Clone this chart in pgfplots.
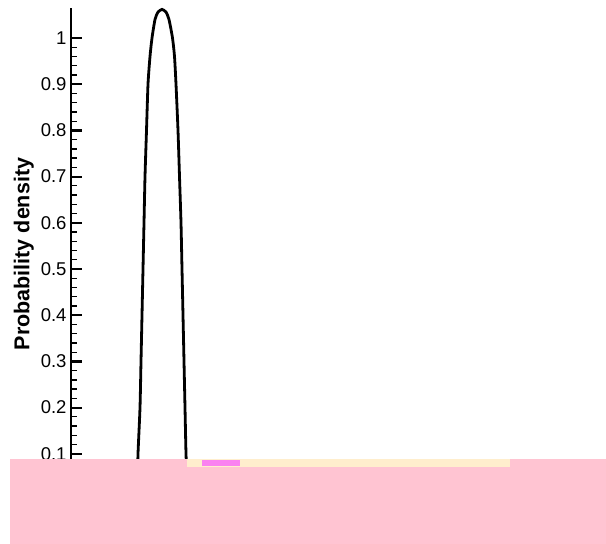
\documentclass[border=0pt]{standalone}
\usepackage{pgfplots}
\pgfplotsset{compat=1.18}
\usepackage{fontspec}
\setmainfont{Liberation Sans}
\definecolor{maskpink}{RGB}{255,196,210}
\definecolor{stripyellow}{RGB}{255,238,205}
\definecolor{stripmag}{RGB}{250,130,240}
\begin{document}
\begin{tikzpicture}[x=1bp,y=1bp]
\path[use as bounding box] (0,0) rectangle (606,544);
\begin{axis}[
  at={(71bp,44bp)}, anchor=south west,
  scale only axis, width=535bp, height=492bp,
  xmin=0, xmax=535, ymin=0, ymax=1.065,
  axis x line=none, axis y line*=left,
  axis line style={line width=2bp},
  ytick={0.1,0.2,...,1.0},
  minor y tick num=4,
  tick align=inside,
  ytick pos=left,
  major tick length=11bp, minor tick length=6bp,
  major tick style={line width=2.2bp, black},
  minor tick style={line width=1.3bp, black},
  /pgf/number format/assume math mode=true,
  yticklabel style={font=\fontsize{18.5bp}{22bp}\selectfont, xshift=-1bp},
  ylabel={Probability density},
  ylabel style={font=\bfseries\fontsize{21.5bp}{25bp}\selectfont, xshift=0bp},
  clip=true,
]
\addplot[black, line width=2.8bp, smooth, tension=0.4] coordinates {
(64,0) (66.5,0.05) (67,0.1) (69,0.2) (70,0.3) (71,0.4) (72,0.5) (73,0.6) (74,0.7) (75.5,0.8) (77,0.9) (79,0.96) (81,1.0) (84,1.04) (87,1.056) (91,1.062) (95,1.056) (98,1.04) (101.5,1.0) (103.5,0.96) (105,0.9) (107,0.8) (108.5,0.7) (110,0.6) (111,0.5) (112,0.4) (113,0.3) (114,0.2) (115,0.1) (116,0.05) (117,0)
};
\end{axis}
\fill[maskpink] (10,0) rectangle (606,85);
\fill[stripyellow] (187,77) rectangle (510,85);
\fill[stripmag] (202,78) rectangle (240,84);
\end{tikzpicture}
\end{document}
